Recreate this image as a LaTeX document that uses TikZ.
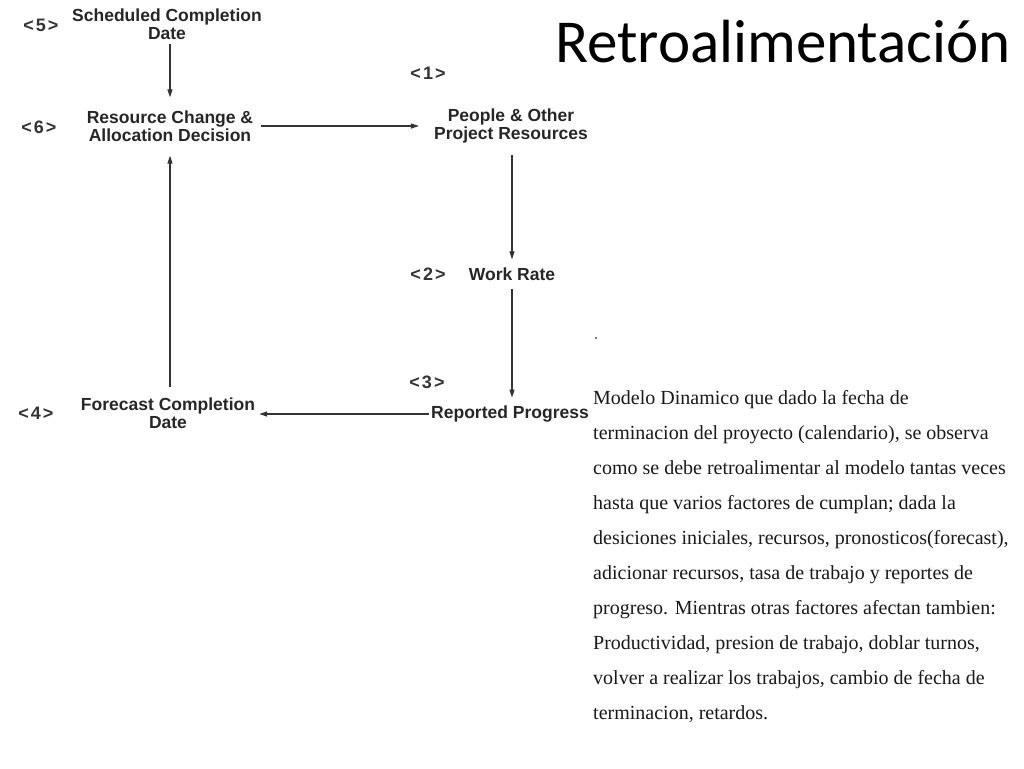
\documentclass[tikz,border=0pt]{standalone}
\usepackage{fontspec}
\setmainfont{Liberation Serif}
\newfontfamily\diagfont{Liberation Sans}
\newfontfamily\titlefont{Carlito}
\usetikzlibrary{arrows.meta}
\newcommand{\tagnum}[1]{<\hspace{2pt}#1\hspace{2pt}>}
\begin{document}
\begin{tikzpicture}[x=1pt,y=-1pt,
  lbl/.style={font=\diagfont\bfseries\fontsize{17.5}{18}\selectfont, align=center, inner sep=0pt, text=black!85},
  num/.style={font=\diagfont\bfseries\fontsize{18}{18}\selectfont, inner sep=0pt, text=black!80},
  conn/.style={line width=1.2pt, draw=black!80, -{Triangle[length=8pt,width=5pt]}},
  para/.style={font=\fontsize{20}{35}\selectfont, align=left, inner sep=0pt, anchor=north west, text=black!90}
]
\useasboundingbox (0,0) rectangle (1024,768);

% title
\node[font=\titlefont\fontsize{61}{61}\selectfont, anchor=base east, inner sep=0pt] (title) at (1011,63) {Retroalimentación};

% numbers
\node[num] (n5) at (41,25) {\tagnum{5}};
\node[num] (n6) at (39,127) {\tagnum{6}};
\node[num] (n1) at (428,73) {\tagnum{1}};
\node[num] (n2) at (428,274) {\tagnum{2}};
\node[num] (n3) at (427,382) {\tagnum{3}};
\node[num] (n4) at (36,413) {\tagnum{4}};

% labels
\node[lbl] (sched) at (167,24) {Scheduled Completion\\Date};
\node[lbl] (res) at (170,126) {Resource Change \&\\Allocation Decision};
\node[lbl] (people) at (511,126) {People \& Other\\Project Resources};
\node[lbl] (work) at (512,274) {Work Rate};
\node[lbl] (rep) at (510,414) {Reported Progress};
\node[lbl] (fore) at (168,413) {Forecast Completion\\Date};

% connectors
\draw[conn, shorten <=4pt, shorten >=13pt] (res.north |- sched.south) -- (res.north);
\draw[conn, shorten <=8pt, shorten >=15pt] (res.east) -- (people.west);
\draw[conn, shorten <=12pt, shorten >=8pt] (work.north |- people.south) -- (work.north);
\draw[conn, shorten <=8pt, shorten >=8pt] (work.south) -- (work.south |- rep.north);
\draw[conn, shorten <=2pt, shorten >=4pt] (rep.west) -- (rep.west -| fore.east);
\draw[conn, shorten <=10pt, shorten >=14pt] (res.south |- fore.north) -- (res.south);

% dot
\fill[black!70] (596,338) circle (1.1pt);

% paragraph
\node[para] (txt) at (593,390) {Modelo Dinamico que dado la fecha de\\
terminacion del proyecto (calendario), se observa\\
como se debe retroalimentar al modelo tantas veces\\
hasta que varios factores de cumplan; dada la\\
desiciones iniciales, recursos, pronosticos(forecast),\\
adicionar recursos, tasa de trabajo y reportes de\\
progreso. Mientras otras factores afectan tambien:\\
Productividad, presion de trabajo, doblar turnos,\\
volver a realizar los trabajos, cambio de fecha de\\
terminacion, retardos.};
\end{tikzpicture}
\end{document}
